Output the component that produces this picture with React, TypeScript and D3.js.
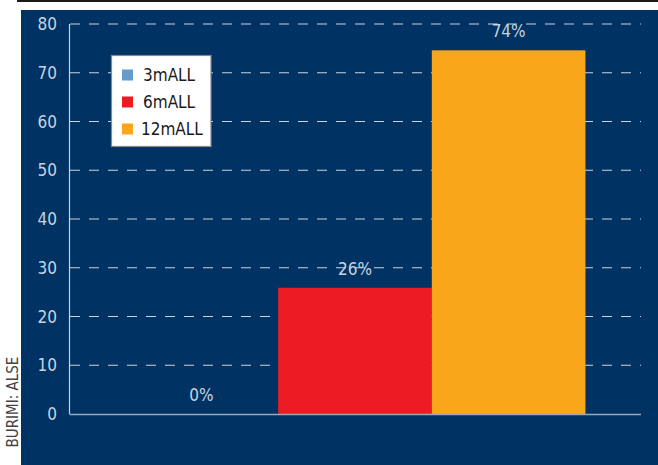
import React from "react";
import * as d3 from "d3";

const categories = ["3mALL", "6mALL", "12mALL"];
const values = [0, 25.9, 74.6];
const valueLabels = ["0%", "26%", "74%"];
const colors = ["#6699cc", "#ed1c24", "#f9a61a"];
const yTicks = [0, 10, 20, 30, 40, 50, 60, 70, 80];
const yTitle = "BURIMI: ALSE";

const W = 658;
const H = 465;
const FONT = "'Liberation Sans Narrow', 'DejaVu Sans Condensed', 'Roboto Condensed', sans-serif";
const TEXT = "#c9d3e0";

export default function App() {
  const x = d3.scaleBand<string>().domain(categories).range([70, 640]).paddingInner(0).paddingOuter(0.355);
  const y = d3.scaleLinear().domain([0, 80]).range([414, 24]);
  return (
    <svg width={W} height={H} style={{ position: "absolute", left: 0, top: 0, background: "#fff" }}>
      <rect x={17} y={0} width={W - 17} height={2} fill="#1a1a1a" />
      <rect x={21} y={10} width={W - 21} height={H - 10} fill="#003263" />
      {yTicks.filter((t) => t > 0).map((t) => (
        <line key={"g" + t} x1={70} x2={641} y1={y(t)} y2={y(t)} stroke="#c9d3e0" strokeWidth={1.2} strokeDasharray="10,9" />
      ))}
      {categories.map((c, i) => (
        <rect key={c} x={x(c)} y={y(values[i])} width={x.bandwidth()} height={y(0) - y(values[i])} fill={colors[i]} />
      ))}
      <line x1={69.5} x2={69.5} y1={y(80)} y2={y(0)} stroke="#c9d3e0" strokeWidth={1.2} />
      <line x1={69.5} x2={641} y1={y(0) + 0.5} y2={y(0) + 0.5} stroke="#9aa8bb" strokeWidth={1.5} />
      {yTicks.map((t) => (
        <text key={"t" + t} x={57} y={y(t)} dy="0.36em" textAnchor="end" fill={TEXT} fontFamily={FONT} fontSize={17}>
          {t}
        </text>
      ))}
      {categories.map((c, i) => (
        <text key={"l" + c} x={(x(c) as number) + x.bandwidth() / 2} y={y(values[i]) - 13} textAnchor="middle" fill={TEXT} fontFamily={FONT} fontSize={17}>
          {valueLabels[i]}
        </text>
      ))}
      <text transform={`translate(18,402) rotate(-90)`} textAnchor="middle" fill="#444" fontFamily={FONT} fontSize={15}>
        {yTitle}
      </text>
      <g>
        <rect x={111.5} y={55.5} width={99.5} height={91} fill="#fff" stroke="#888" strokeWidth={1.2} />
        {categories.map((c, i) => (
          <g key={"lg" + c}>
            <rect x={122} y={75 + i * 27 - 5.5} width={11} height={11} fill={colors[i]} />
            <text x={c.length > 5 ? 141 : 143} y={75 + i * 27} dy="0.36em" fill="#1a1a1a" fontFamily={FONT} fontSize={17}>
              {c}
            </text>
          </g>
        ))}
      </g>
    </svg>
  );
}
